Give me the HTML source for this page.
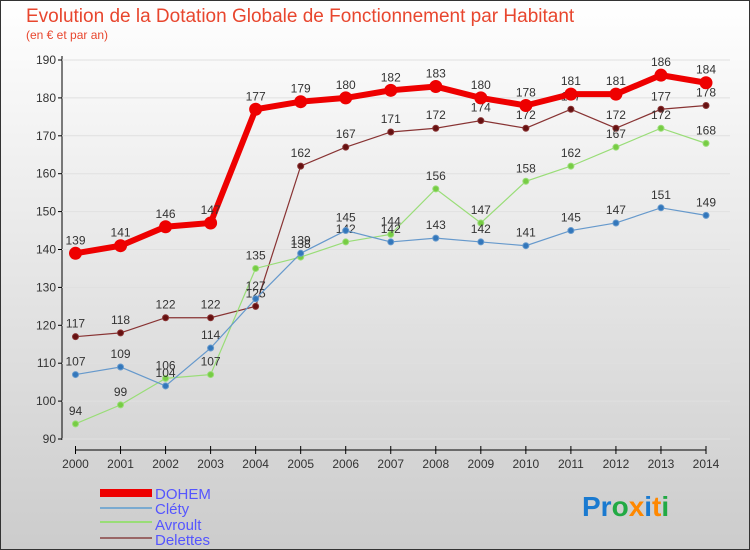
<!DOCTYPE html>
<html><head><meta charset="utf-8"><style>
body{margin:0}
svg{display:block;font-family:"Liberation Sans",sans-serif}
</style></head><body>
<svg width="750" height="550" xmlns="http://www.w3.org/2000/svg">
<defs><linearGradient id="bg" x1="0" y1="0" x2="0" y2="1"><stop offset="0" stop-color="#ffffff"/><stop offset="1" stop-color="#cccccc"/></linearGradient></defs>
<rect x="0.5" y="0.5" width="749" height="549" fill="url(#bg)" stroke="#333"/>
<text x="26" y="22" font-size="19" fill="#e8462e">Evolution de la Dotation Globale de Fonctionnement par Habitant</text>
<text x="26" y="39" font-size="12" fill="#e8462e">(en € et par an)</text>
<g id="axes"></g>
<g id="series"></g>
<g id="legend" font-size="15">
<rect x="100" y="489" width="52" height="8" fill="#ee0000"/>
<text x="155" y="499" fill="#5555ff">DOHEM</text>
<line x1="100" y1="508" x2="152" y2="508" stroke="#7aaad0" stroke-width="2"/>
<text x="155" y="514" fill="#5555ff">Cléty</text>
<line x1="100" y1="522" x2="152" y2="522" stroke="#99dd77" stroke-width="2"/>
<text x="155" y="530" fill="#5555ff">Avroult</text>
<line x1="100" y1="538" x2="152" y2="538" stroke="#996666" stroke-width="2"/>
<text x="155" y="545" fill="#5555ff">Delettes</text>
</g>
<text x="582" y="516" font-size="28" font-weight="bold"><tspan fill="#1a7ad0">Pr</tspan><tspan fill="#22aa44">o</tspan><tspan fill="#ff8800">x</tspan><tspan fill="#1a7ad0">i</tspan><tspan fill="#ff8800">t</tspan><tspan fill="#22aa44">i</tspan></text>
<script>
const years=[2000,2001,2002,2003,2004,2005,2006,2007,2008,2009,2010,2011,2012,2013,2014];
const yTicks=[90,100,110,120,130,140,150,160,170,180,190];
const dohem=[139,141,146,147,177,179,180,182,183,180,178,181,181,186,184];
const clety=[107,109,104,114,127,139,145,142,143,142,141,145,147,151,149];
const avroult=[94,99,106,107,135,138,142,144,156,147,158,162,167,172,168];
const delettes=[117,118,122,122,125,162,167,171,172,174,172,177,172,177,178];
const NS="http://www.w3.org/2000/svg";
const xS=i=>75.5+i*(630.5/14);
const yS=v=>439-(v-90)*3.79;
function mk(t,a,p){const e=document.createElementNS(NS,t);for(const k in a)e.setAttribute(k,a[k]);p.appendChild(e);return e;}
const ax=document.getElementById('axes');
const yl=mk('line',{x1:62,y1:56,x2:62,y2:440,stroke:'#000'},ax);


yTicks.forEach(v=>{const y=yS(v);
mk('line',{x1:62,y1:y,x2:730,y2:y,stroke:'#e0e0e0'},ax);
mk('line',{x1:58,y1:y,x2:62,y2:y,stroke:'#000'},ax);
const t=mk('text',{x:56,y:y+4,'text-anchor':'end','font-size':12,fill:'#333'},ax);t.textContent=v;

});
const xl=mk('line',{x1:75,y1:450,x2:706,y2:450,stroke:'#000'},ax);


years.forEach((yr,i)=>{const x=xS(i);
mk('line',{x1:x,y1:446,x2:x,y2:454,stroke:'#000'},ax);
const t=mk('text',{x:x,y:468,'text-anchor':'middle','font-size':12,fill:'#333'},ax);t.textContent=yr;

});
const sg=document.getElementById('series');
function draw(d,name,col,dot,w,r){
const g=mk('g',{},sg);


mk('polyline',{points:d.map((v,i)=>xS(i)+','+yS(v)).join(' '),fill:'none',stroke:col,'stroke-width':w},g);
d.forEach((v,i)=>{const c=mk('circle',{cx:xS(i),cy:yS(v),r:r,fill:dot,stroke:col,'stroke-width':1},g);


const t=mk('text',{x:xS(i),y:yS(v)-9,'text-anchor':'middle','font-size':12,fill:'#333'},g);t.textContent=v;

});}
draw(delettes,'delettes','#883333','#661111',1.2,3);
draw(avroult,'avroult','#99dd77','#77cc44',1.2,3);
draw(clety,'clety','#6699cc','#3377bb',1.2,3);
draw(dohem,'dohem','#ee0000','#ee0000',6,6);
</script>
</svg>
</body></html>
